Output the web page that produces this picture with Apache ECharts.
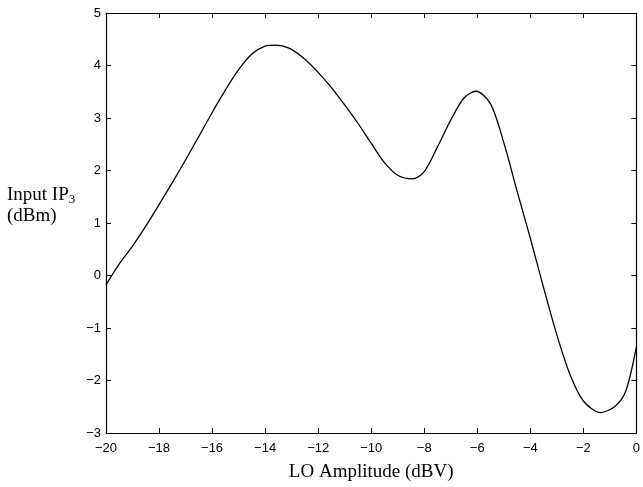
<!DOCTYPE html>
<html>
<head>
<meta charset="utf-8">
<script src="https://cdn.jsdelivr.net/npm/echarts@6/dist/echarts.min.js"></script>
<style>html,body{margin:0;padding:0;background:#fff}#c{width:643px;height:487px}</style>
</head>
<body>
<div id="c"></div>
<script>
const loAmplitude = [-20, -19.5, -19.0, -18.5, -18.0, -17.5, -17.0, -16.5, -16.0, -15.5, -15.0, -14.5, -14.0, -13.6, -13.1, -12.5, -12.0, -11.5, -11.0, -10.5, -10.0, -9.5, -9.0, -8.45, -8.0, -7.5, -7.0, -6.5, -6.05, -5.5, -5.0, -4.5, -4.0, -3.5, -3.0, -2.5, -2.0, -1.35, -0.8, -0.4, 0];
const inputIP3 = [-0.18, 0.22, 0.56, 0.94, 1.35, 1.77, 2.2, 2.65, 3.1, 3.53, 3.92, 4.22, 4.37, 4.39, 4.33, 4.12, 3.87, 3.58, 3.25, 2.9, 2.52, 2.15, 1.91, 1.84, 1.98, 2.45, 2.96, 3.38, 3.51, 3.27, 2.53, 1.61, 0.71, -0.23, -1.13, -1.89, -2.39, -2.61, -2.49, -2.2, -1.36];
const xTicks = [-20, -18, -16, -14, -12, -10, -8, -6, -4, -2, 0];
const yTicks = [-3, -2, -1, 0, 1, 2, 3, 4, 5];

const chart = echarts.init(document.getElementById('c'), null, {renderer: 'canvas'});
const minus = v => String(v).replace('-', '\u2212');
const axisLine = {show: true, onZero: false, lineStyle: {color: '#000', width: 1.2}};
const tick = {show: true, inside: true, length: 5, lineStyle: {color: '#000', width: 1}};
const lbl = {color: '#000', fontFamily: 'Liberation Sans', fontSize: 13};
chart.setOption({
  animation: false,
  backgroundColor: '#fff',
  grid: {left: 106, right: 2, top: 13, bottom: 54},
  xAxis: [{
    type: 'value', min: xTicks[0], max: xTicks[xTicks.length - 1], interval: 2,
    axisLine, axisTick: tick, splitLine: {show: false},
    axisLabel: Object.assign({}, lbl, {margin: 9, formatter: minus}),
    name: 'LO Amplitude (dBV)', nameLocation: 'middle', nameGap: 30,
    nameTextStyle: {color: '#000', fontFamily: 'Liberation Serif', fontSize: 19}
  }, {
    type: 'value', position: 'top', min: xTicks[0], max: xTicks[xTicks.length - 1], interval: 2,
    axisLine, axisTick: tick, axisLabel: {show: false}, splitLine: {show: false}
  }],
  yAxis: [{
    type: 'value', min: yTicks[0], max: yTicks[yTicks.length - 1], interval: 1,
    axisLine, axisTick: tick, splitLine: {show: false},
    axisLabel: Object.assign({}, lbl, {margin: 5, formatter: minus})
  }, {
    type: 'value', position: 'right', min: yTicks[0], max: yTicks[yTicks.length - 1], interval: 1,
    axisLine, axisTick: tick, axisLabel: {show: false}, splitLine: {show: false}
  }],
  graphic: [{
    type: 'text', left: 7, top: 185,
    style: {
      text: 'Input IP{sub|3}\n(dBm)',
      fill: '#000', font: '19px "Liberation Serif"', lineHeight: 21,
      rich: {sub: {fontSize: 13, fontFamily: 'Liberation Serif', verticalAlign: 'bottom', padding: [8, 0, 0, 0]}}
    }
  }],
  series: [{
    type: 'line', xAxisIndex: 0, yAxisIndex: 0,
    data: loAmplitude.map((x, i) => [x, inputIP3[i]]),
    smooth: 0.3, showSymbol: false,
    lineStyle: {color: '#000', width: 1.3}
  }]
});
</script>
</body>
</html>
